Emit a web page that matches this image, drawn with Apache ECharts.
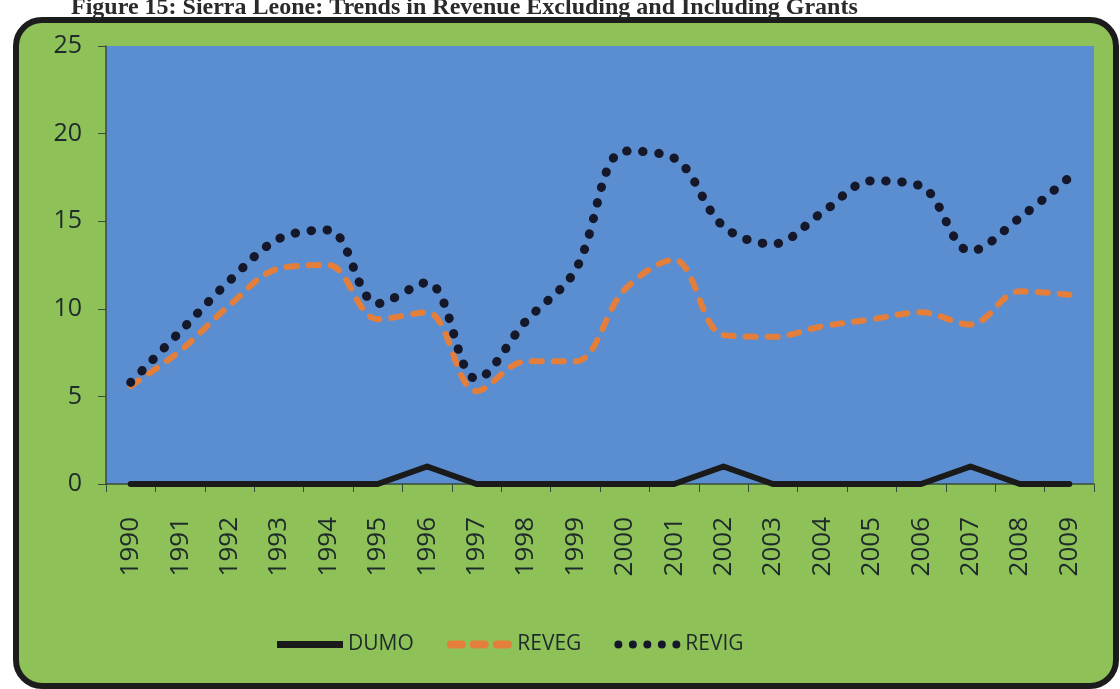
<!DOCTYPE html>
<html>
<head>
<meta charset="utf-8">
<script src="https://cdn.jsdelivr.net/npm/echarts@6/dist/echarts.min.js"></script>
<style>
html,body{margin:0;padding:0;background:#ffffff;}
#chart{width:1120px;height:689px;}
</style>
</head>
<body>
<div id="chart"></div>
<script>
const titleText = 'Figure 15: Sierra Leone: Trends in Revenue Excluding and Including Grants';
const years = ['1990','1991','1992','1993','1994','1995','1996','1997','1998','1999','2000','2001','2002','2003','2004','2005','2006','2007','2008','2009'];
const dumo  = [0,0,0,0,0,0,1,0,0,0,0,0,1,0,0,0,0,1,0,0];
const reveg = [5.6,7.6,10.2,12.3,12.5,9.4,9.8,5.3,7.0,7.0,11.1,12.8,8.5,8.4,9.0,9.4,9.8,9.1,11.0,10.8];
const revig = [5.8,8.7,11.6,14.0,14.5,10.3,11.5,6.0,9.3,12.2,19.0,18.6,14.7,13.7,15.5,17.3,17.0,13.3,15.2,17.5];
const yTicks = [0,5,10,15,20,25];

const solidIcon = 'path://M0,0.5 L66,0.5 L66,7.5 L0,7.5 Z';
const dashIcon = 'path://M4,0 L15,0 A4,4 0 0 1 15,8 L4,8 A4,4 0 0 1 4,0 Z M27,0 L38,0 A4,4 0 0 1 38,8 L27,8 A4,4 0 0 1 27,0 Z M50,0 L61,0 A4,4 0 0 1 61,8 L50,8 A4,4 0 0 1 50,0 Z';
function dotsPath(n, step, r) {
  let p = '';
  for (let i = 0; i < n; i++) {
    const cx = r + i * step;
    p += 'M' + (cx - r) + ',' + r + ' A' + r + ',' + r + ' 0 1 0 ' + (cx + r) + ',' + r + ' A' + r + ',' + r + ' 0 1 0 ' + (cx - r) + ',' + r + ' Z ';
  }
  return 'path://' + p;
}
const dotIcon = dotsPath(5, 14.5, 4);

const chart = echarts.init(document.getElementById('chart'));
const font = 'Open Sans';
chart.setOption({
  animation: false,
  backgroundColor: '#ffffff',
  title: {
    text: titleText,
    left: 66, top: -9,
    textStyle: {fontFamily: 'Liberation Serif', fontWeight: 'bold', fontSize: 24, color: '#2a2a2a'}
  },
  graphic: [{
    type: 'rect', z: -10, silent: true,
    shape: {x: 16, y: 20, width: 1100, height: 666, r: 26},
    style: {fill: '#8ec259', stroke: '#1c1c1c', lineWidth: 6}
  }],
  grid: {left: 106, right: 26, top: 46, bottom: 205, show: true, backgroundColor: '#5b8ed0', borderWidth: 0},
  legend: {
    left: 272, top: 629,
    itemGap: 33, itemWidth: 66, itemHeight: 8,
    textStyle: {fontFamily: font, fontSize: 21, color: '#1f2a2a'},
    data: [
      {name: 'DUMO', icon: solidIcon},
      {name: 'REVEG', icon: dashIcon},
      {name: 'REVIG', icon: dotIcon}
    ]
  },
  xAxis: {
    type: 'category', data: years, boundaryGap: true,
    axisLine: {show: true, lineStyle: {color: '#3a4a3a', width: 1.5}},
    axisTick: {show: true, length: 8, interval: 0, lineStyle: {color: '#3a4a3a'}},
    axisLabel: {rotate: 90, interval: 0, margin: 33, fontFamily: font, fontSize: 26, color: '#1f2a2a'}
  },
  yAxis: {
    type: 'value', min: 0, max: 25, interval: 5,
    axisLine: {show: true, lineStyle: {color: '#3a4a3a', width: 1.5}},
    axisTick: {show: true, length: 8, lineStyle: {color: '#3a4a3a'}},
    splitLine: {show: false},
    axisLabel: {margin: 24, fontFamily: font, fontSize: 25, color: '#1f2a2a',
      formatter: v => yTicks.includes(v) ? String(v) : ''}
  },
  series: [
    {name: 'DUMO', type: 'line', data: dumo, symbol: 'none', smooth: false,
     itemStyle: {color: '#1a1a1a'},
     lineStyle: {color: '#1a1a1a', width: 6, cap: 'round', join: 'round'}, z: 3},
    {name: 'REVEG', type: 'line', data: reveg, symbol: 'none', smooth: 0.35,
     itemStyle: {color: '#e37f3b'},
     lineStyle: {color: '#e37f3b', width: 6, type: [10, 12], cap: 'round', join: 'round'}, z: 4},
    {name: 'REVIG', type: 'line', data: revig, symbol: 'none', smooth: 0.35,
     itemStyle: {color: '#14182a'},
     lineStyle: {color: '#14182a', width: 9, type: [0.5, 15.5], cap: 'round'}, z: 5}
  ]
});
</script>
</body>
</html>
